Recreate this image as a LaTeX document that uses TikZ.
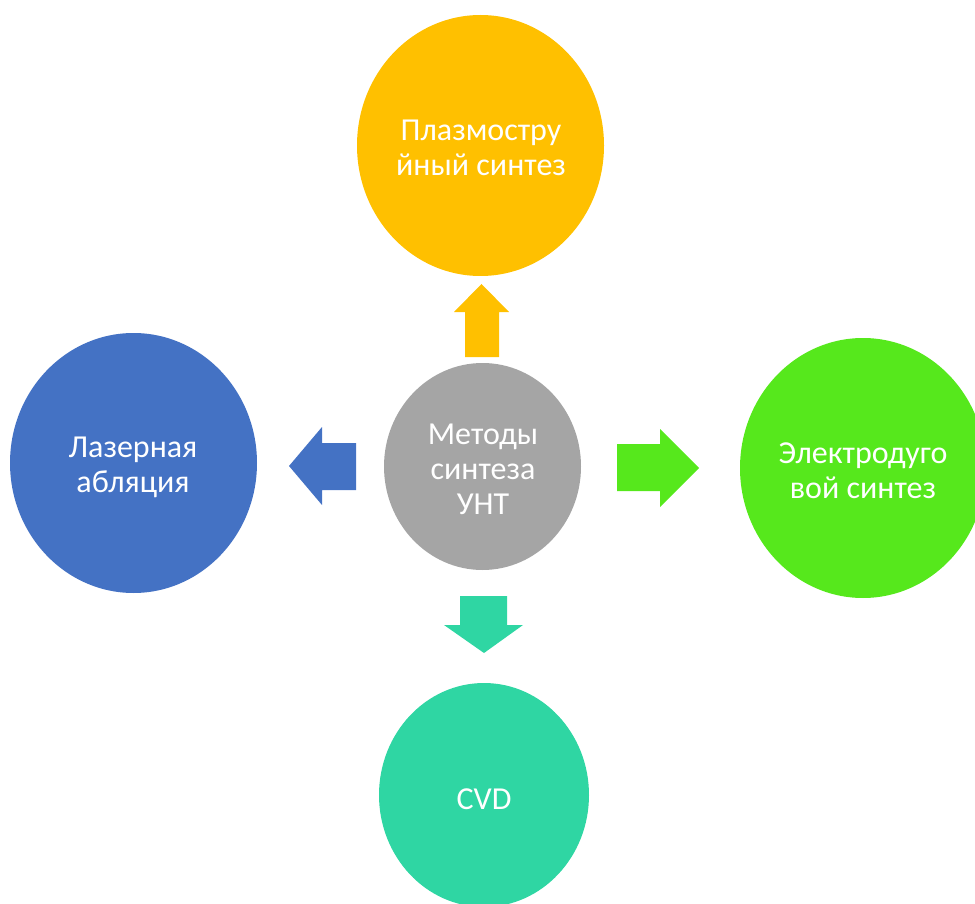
\documentclass[tikz,border=0pt]{standalone}
\usepackage{fontspec}
\setmainfont{Carlito}
\usetikzlibrary{shapes.geometric}
\definecolor{cOrange}{HTML}{FFC000}
\definecolor{cGray}{HTML}{A5A5A5}
\definecolor{cBlue}{HTML}{4472C4}
\definecolor{cGreen}{HTML}{56E81C}
\definecolor{cTeal}{HTML}{2FD6A3}
\tikzset{
  blob/.style={ellipse, inner sep=0pt, text=white, align=center,
    font=\fontsize{32}{35}\selectfont},
}
\begin{document}
\begin{tikzpicture}[x=1pt,y=-1pt]
\useasboundingbox (0,0) rectangle (975,904);
\begin{scope}
\clip (0,0) rectangle (975,904);
\node[blob, fill=cOrange, minimum width=247pt, minimum height=261pt] (plasma) at (480.5,145.5) {};
\node[blob, fill=cGray, minimum width=197pt, minimum height=207pt] (center) at (482.5,466.5) {};
\node[blob, fill=cBlue, minimum width=247pt, minimum height=260pt] (laser) at (133.5,463) {};
\node[blob, fill=cGreen, minimum width=246pt, minimum height=260pt] (arc) at (863,468) {};
\node[blob, fill=cTeal, minimum width=210pt, minimum height=224pt] (cvd) at (484,795) {};
\end{scope}
\node[blob] (plasmaT) at (481,148) {Плазмостру\\йный синтез};
\node[blob] (centerT) at (483,469) {Методы\\синтеза\\УНТ};
\node[blob] (laserT) at (133,467) {Лазерная\\абляция};
\node[blob] (arcT) at (863,471) {Электродуго\\вой синтез};
\node[blob] (cvdT) at (484,799) {CVD};
% block arrows
\fill[cOrange] (465,357) -- (465,312) -- (454,312) -- (481.5,284) -- (509,312) -- (499,312) -- (499,357) -- cycle;
\fill[cBlue] (356,443) -- (322,443) -- (322,427) -- (289,466) -- (322,505) -- (322,490) -- (356,490) -- cycle;
\fill[cGreen] (617,444) -- (660,444) -- (660,429) -- (699,468) -- (660,507) -- (660,491) -- (617,491) -- cycle;
\fill[cTeal] (460,596) -- (507,596) -- (507,625) -- (523,625) -- (484,653) -- (444,625) -- (460,625) -- cycle;
\end{tikzpicture}
\end{document}
